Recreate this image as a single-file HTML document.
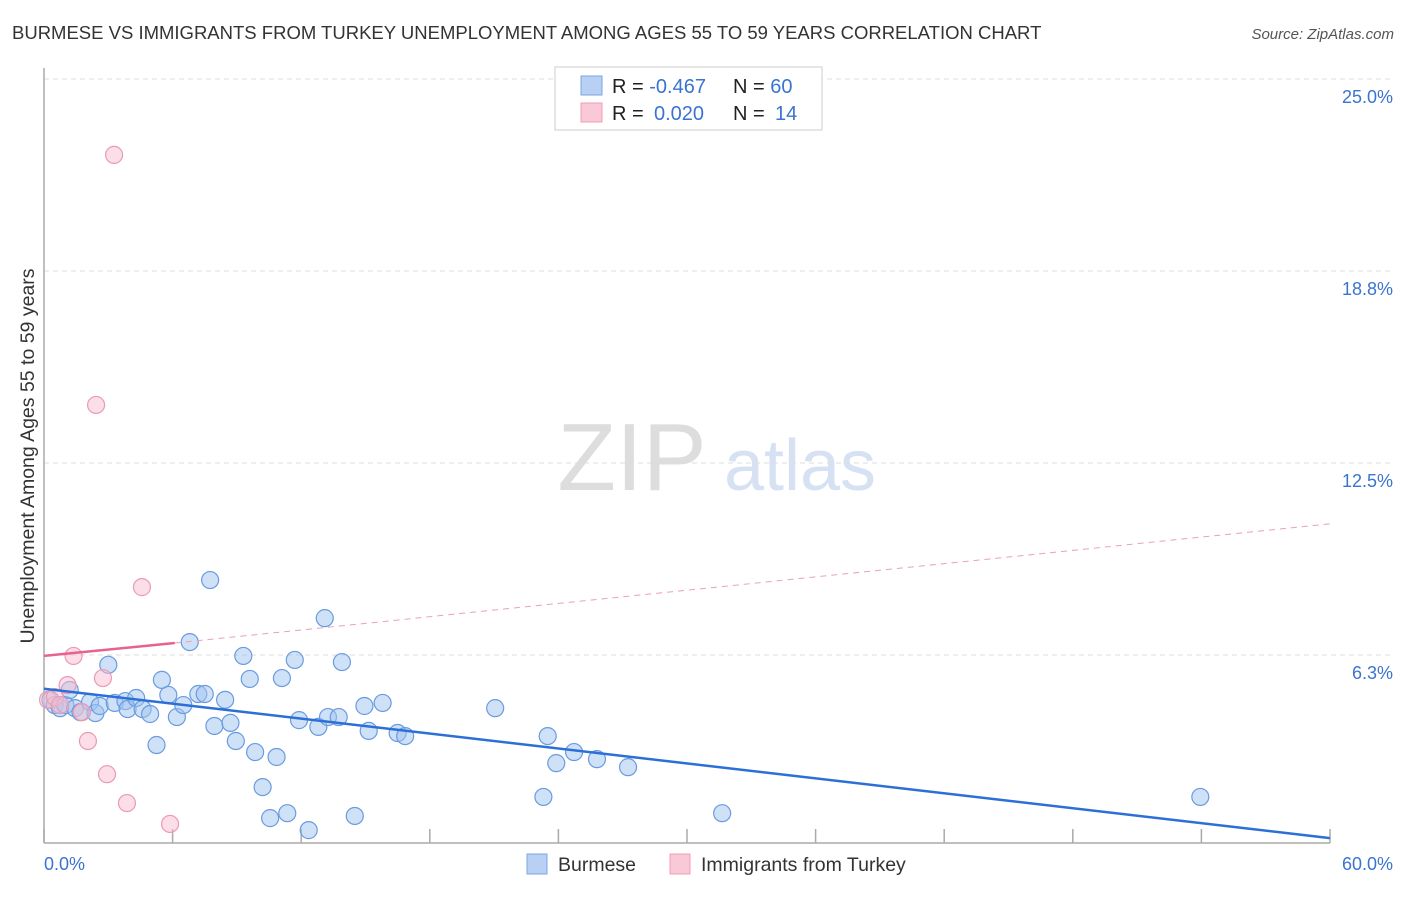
<!DOCTYPE html>
<html><head><meta charset="utf-8">
<style>
body{margin:0;background:#fff;font-family:"Liberation Sans",sans-serif;}
svg text{font-family:"Liberation Sans",sans-serif;}
</style></head>
<body>
<svg id="chart" width="1406" height="892" xmlns="http://www.w3.org/2000/svg">
<text x="12" y="39" font-size="18.5" fill="#333">BURMESE VS IMMIGRANTS FROM TURKEY UNEMPLOYMENT AMONG AGES 55 TO 59 YEARS CORRELATION CHART</text>
<text x="1394" y="39" font-size="15" fill="#555" text-anchor="end" font-style="italic">Source: ZipAtlas.com</text>
<text transform="translate(34,456) rotate(-90)" font-size="19.5" fill="#333" text-anchor="middle">Unemployment Among Ages 55 to 59 years</text>
<g>
<text x="632" y="490" font-size="96" fill="#ddd" text-anchor="middle" font-family="Liberation Serif, serif">ZIP</text>
<text x="800" y="490" font-size="72" fill="#d6e2f3" text-anchor="middle">atlas</text>
</g>
<g id="grid"></g>
<g id="axes"></g>
<g id="marks"></g>
<g>
<rect x="555" y="67" width="267" height="63" fill="#fff" stroke="#ccc"/>
<rect x="581" y="76" width="21" height="19" fill="#b7d0f3" stroke="#7aa6e6"/>
<rect x="581" y="103" width="21" height="19" fill="#f9c9d7" stroke="#ef9cb6"/>
<text x="612" y="93" font-size="20" fill="#222">R = <tspan fill="#3a74d0">-0.467</tspan></text>
<text x="733" y="93" font-size="20" fill="#222">N = <tspan fill="#3a74d0">60</tspan></text>
<text x="612" y="120" font-size="20" fill="#222">R = <tspan fill="#3a74d0" x="654">0.020</tspan></text>
<text x="733" y="120" font-size="20" fill="#222">N = <tspan fill="#3a74d0" x="775">14</tspan></text>
</g>
<g>
<rect x="527" y="854" width="20" height="20" fill="#b7d0f3" stroke="#7aa6e6"/>
<text x="558" y="871" font-size="19.5" fill="#333">Burmese</text>
<rect x="670" y="854" width="20" height="20" fill="#f9c9d7" stroke="#ef9cb6"/>
<text x="701" y="871" font-size="19.5" fill="#333">Immigrants from Turkey</text>
</g>
</svg>
<script>
const burmeseX=[0.3,0.5,0.75,1.0,1.2,1.45,1.7,2.15,2.4,2.6,3.0,3.3,3.8,3.9,4.3,4.6,4.95,5.25,5.5,5.8,6.2,6.5,6.8,7.2,7.5,7.75,7.95,8.45,8.7,8.95,9.3,9.6,9.85,10.2,10.55,10.85,11.1,11.35,11.7,11.9,12.35,12.8,13.1,13.25,13.75,13.9,14.5,14.95,15.15,15.8,16.5,16.85,21.05,23.3,23.5,23.9,24.73,25.8,27.25,31.64,53.95];
const burmeseY=[4.79,4.62,4.52,4.62,5.11,4.52,4.39,4.72,4.36,4.59,5.93,4.69,4.75,4.49,4.85,4.49,4.33,3.32,5.44,4.95,4.23,4.62,6.67,4.98,4.98,8.69,3.94,4.79,4.04,3.45,6.22,5.47,3.09,1.95,0.94,2.93,5.50,1.10,6.09,4.13,0.55,3.91,7.45,4.23,4.23,6.02,1.01,4.59,3.78,4.69,3.71,3.61,4.52,1.63,3.61,2.73,3.09,2.86,2.60,1.10,1.63];
const turkeyX=[0.19,0.51,1.1,1.38,1.77,2.05,2.43,2.75,2.94,3.27,3.87,4.57,5.88,0.75];
const turkeyY=[4.79,4.88,5.27,6.22,4.39,3.45,14.39,5.50,2.37,22.53,1.43,8.46,0.75,4.62];
const blueTrend=[[0,5.15],[60,0.29]];
const pinkTrend=[[0,6.22],[6.1,6.64],[60,10.52]];
const yTicks=[6.25,12.5,18.75,25];
const yTickLabels=["6.3%","12.5%","18.8%","25.0%"];
const xTicks=[0,6,12,18,24,30,36,42,48,54,60];
const x0=44,x1=1330,yb=847,yPer=192/6.25;
const sx=v=>x0+(x1-x0)*v/60;
const sy=v=>yb-v*yPer;
const NS="http://www.w3.org/2000/svg";
function mk(tag,attrs,parent){const e=document.createElementNS(NS,tag);for(const k in attrs)e.setAttribute(k,attrs[k]);parent.appendChild(e);return e;}
const grid=document.getElementById('grid'),axes=document.getElementById('axes'),marks=document.getElementById('marks');
yTicks.forEach((t,i)=>{
 const l=mk('line',{x1:x0,x2:1394,y1:sy(t),y2:sy(t),stroke:'#ddd','stroke-dasharray':'5,4'},grid);
 
 
 const tx=mk('text',{x:1393,y:sy(t)+24,'font-size':18,fill:'#3a74d0','text-anchor':'end'},axes);
 tx.textContent=yTickLabels[i];
 
 
});
const topGrid=mk('line',{x1:x0,x2:1394,y1:79,y2:79,stroke:'#ddd','stroke-dasharray':'5,4'},grid);


const ya=mk('line',{x1:x0,x2:x0,y1:68,y2:843,stroke:'#aaa','stroke-width':1.5},axes);


const xa=mk('line',{x1:x0,x2:x1,y1:843,y2:843,stroke:'#aaa','stroke-width':1.5},axes);


xTicks.forEach(t=>{const l=mk('line',{x1:sx(t),x2:sx(t),y1:829,y2:843,stroke:'#aaa','stroke-width':1.5},axes);
 
 });
const xl0=mk('text',{x:44,y:870,'font-size':18,fill:'#3a74d0'},axes);xl0.textContent="0.0%";


const xl1=mk('text',{x:1393,y:870,'font-size':18,fill:'#3a74d0','text-anchor':'end'},axes);xl1.textContent="60.0%";


burmeseX.forEach((v,i)=>{const c=mk('circle',{cx:sx(v),cy:sy(burmeseY[i]),r:8.5,fill:'rgba(160,195,240,0.5)',stroke:'#6a9be0','stroke-width':1.2},marks);
 
 });
turkeyX.forEach((v,i)=>{const c=mk('circle',{cx:sx(v),cy:sy(turkeyY[i]),r:8.5,fill:'rgba(248,190,208,0.5)',stroke:'#ec9ab4','stroke-width':1.2},marks);
 
 });
const bt=mk('line',{x1:sx(blueTrend[0][0]),y1:sy(blueTrend[0][1]),x2:sx(blueTrend[1][0]),y2:sy(blueTrend[1][1]),stroke:'#2c6fd6','stroke-width':2.5},marks);


const pt=mk('line',{x1:sx(pinkTrend[0][0]),y1:sy(pinkTrend[0][1]),x2:sx(pinkTrend[1][0]),y2:sy(pinkTrend[1][1]),stroke:'#e8628c','stroke-width':2.5},marks);


const pd=mk('line',{x1:sx(pinkTrend[1][0]),y1:sy(pinkTrend[1][1]),x2:sx(pinkTrend[2][0]),y2:sy(pinkTrend[2][1]),stroke:'#e8a0b8','stroke-width':1,'stroke-dasharray':'6,5'},marks);


</script>
</body></html>
